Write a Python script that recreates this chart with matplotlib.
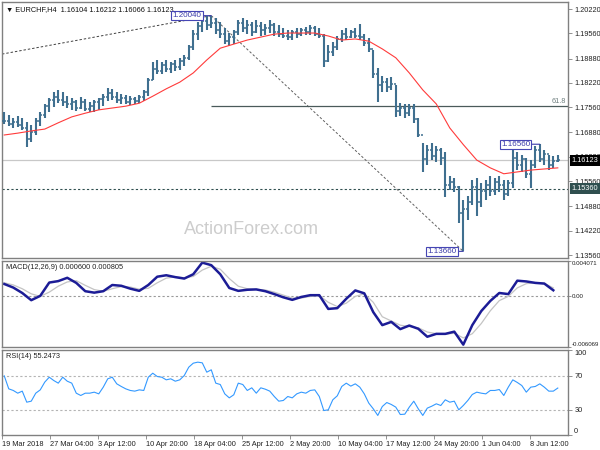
import numpy as np
import matplotlib
matplotlib.use('Agg')
import matplotlib.pyplot as plt
import matplotlib.transforms as mtransforms

plt.rcParams['font.family'] = ['Liberation Sans', 'DejaVu Sans']

# EURCHF H4 - every drawn bar covers 3 H4 bars
highs = [1.1743, 1.1735, 1.1727, 1.1732, 1.1727, 1.1716, 1.1708, 1.1727, 1.1743, 1.1765,
         1.1781, 1.1797, 1.1803, 1.1797, 1.1786, 1.1781, 1.1776, 1.1784, 1.1778, 1.1770,
         1.1776, 1.1781, 1.1792, 1.1808, 1.1806, 1.1797, 1.1792, 1.1789, 1.1786, 1.1784,
         1.1789, 1.1803, 1.1835, 1.1879, 1.1884, 1.1879, 1.1884, 1.1879, 1.1884, 1.1890,
         1.1898, 1.1925, 1.1965, 1.1987, 1.1998, 1.2003, 1.2004, 1.1998, 1.1987, 1.1971,
         1.1957, 1.1965, 1.1992, 1.1998, 1.1992, 1.1987, 1.1992, 1.1987, 1.1981, 1.1992,
         1.1984, 1.1979, 1.1971, 1.1965, 1.1965, 1.1971, 1.1971, 1.1973, 1.1979, 1.1976,
         1.1971, 1.1954, 1.1925, 1.1933, 1.1949, 1.1965, 1.1971, 1.1965, 1.1971, 1.1981,
         1.1954, 1.1944, 1.1911, 1.1862, 1.1841, 1.1835, 1.1838, 1.1816, 1.1767, 1.1765,
         1.1765, 1.1765, 1.1727, 1.1660, 1.1655, 1.1660, 1.1652, 1.1646, 1.1635, 1.1570,
         1.1565, 1.1543, 1.1505, 1.1516, 1.1559, 1.1565, 1.1551, 1.1559, 1.1570, 1.1565,
         1.1570, 1.1559, 1.1559, 1.1641, 1.1635, 1.1627, 1.1619, 1.1613, 1.1652, 1.1656,
         1.1641, 1.1627, 1.1624, 1.1627]
lows = [1.1711, 1.1706, 1.1700, 1.1703, 1.1695, 1.1649, 1.1662, 1.1681, 1.1706, 1.1727,
        1.1743, 1.1757, 1.1767, 1.1759, 1.1754, 1.1749, 1.1746, 1.1751, 1.1746, 1.1743,
        1.1743, 1.1749, 1.1759, 1.1773, 1.1776, 1.1767, 1.1765, 1.1765, 1.1762, 1.1765,
        1.1767, 1.1773, 1.1786, 1.1830, 1.1846, 1.1846, 1.1851, 1.1849, 1.1854, 1.1857,
        1.1868, 1.1884, 1.1911, 1.1938, 1.1960, 1.1965, 1.1971, 1.1954, 1.1944, 1.1927,
        1.1922, 1.1927, 1.1952, 1.1960, 1.1954, 1.1949, 1.1957, 1.1949, 1.1952, 1.1957,
        1.1949, 1.1946, 1.1944, 1.1938, 1.1938, 1.1944, 1.1949, 1.1952, 1.1952, 1.1949,
        1.1944, 1.1865, 1.1879, 1.1895, 1.1911, 1.1933, 1.1938, 1.1944, 1.1944, 1.1938,
        1.1922, 1.1906, 1.1835, 1.1770, 1.1797, 1.1797, 1.1803, 1.1730, 1.1732, 1.1727,
        1.1732, 1.1714, 1.1676, 1.1581, 1.1600, 1.1613, 1.1608, 1.1600, 1.1513, 1.1532,
        1.1527, 1.1443, 1.1366, 1.1451, 1.1492, 1.1462, 1.1486, 1.1505, 1.1516, 1.1519,
        1.1527, 1.1505, 1.1516, 1.1538, 1.1586, 1.1581, 1.1565, 1.1538, 1.1592, 1.1608,
        1.1600, 1.1586, 1.1592, 1.1608]
closes = [1.1720, 1.1712, 1.1715, 1.1708, 1.1700, 1.1670, 1.1690, 1.1720, 1.1735, 1.1760,
          1.1775, 1.1785, 1.1775, 1.1770, 1.1765, 1.1770, 1.1755, 1.1770, 1.1752, 1.1760,
          1.1770, 1.1778, 1.1785, 1.1795, 1.1785, 1.1775, 1.1780, 1.1770, 1.1778, 1.1772,
          1.1785, 1.1798, 1.1830, 1.1860, 1.1855, 1.1870, 1.1860, 1.1872, 1.1865, 1.1880,
          1.1890, 1.1920, 1.1955, 1.1975, 1.1990, 1.1980, 1.1985, 1.1965, 1.1955, 1.1935,
          1.1945, 1.1960, 1.1985, 1.1970, 1.1980, 1.1960, 1.1975, 1.1965, 1.1970, 1.1980,
          1.1960, 1.1955, 1.1950, 1.1945, 1.1960, 1.1955, 1.1965, 1.1960, 1.1970, 1.1955,
          1.1950, 1.1880, 1.1905, 1.1920, 1.1940, 1.1955, 1.1945, 1.1960, 1.1950, 1.1945,
          1.1930, 1.1915, 1.1845, 1.1815, 1.1825, 1.1810, 1.1820, 1.1745, 1.1755, 1.1740,
          1.1755, 1.1725, 1.1680, 1.1615, 1.1640, 1.1625, 1.1640, 1.1620, 1.1545, 1.1555,
          1.1540, 1.1470, 1.1480, 1.1500, 1.1540, 1.1500, 1.1530, 1.1545, 1.1530, 1.1555,
          1.1545, 1.1520, 1.1550, 1.1620, 1.1600, 1.1615, 1.1575, 1.1600, 1.1640, 1.1615,
          1.1630, 1.1600, 1.1610, 1.16123]

# moving average, read at every 3rd drawn bar
ma_line = [1.1681, 1.1686, 1.1692, 1.1697, 1.1714, 1.1730, 1.1740, 1.1749, 1.1754, 1.1759,
           1.1767, 1.1786, 1.1806, 1.1824, 1.1849, 1.1884, 1.1916, 1.1927, 1.1938, 1.1946,
           1.1954, 1.1957, 1.1957, 1.1957, 1.1949, 1.1938, 1.1941, 1.1935, 1.1914, 1.1890,
           1.1849, 1.1803, 1.1765, 1.1700, 1.1655, 1.1613, 1.1592, 1.1576, 1.1581, 1.1586,
           1.1589, 1.1592]

# MACD(12,26,9), read at every 2nd drawn bar
macd_main = [0.00136, 0.00094, 0.00030, -0.00055, -0.00004, 0.00153, 0.00170, 0.00209, 0.00149, 0.00051,
             0.00034, 0.00051, 0.00124, 0.00115, 0.00081, 0.00055, 0.00124, 0.00222, 0.00239, 0.00217,
             0.00200, 0.00251, 0.00388, 0.00358, 0.00251, 0.00089, 0.00055, 0.00068, 0.00072, 0.00051,
             0.00017, -0.00021, -0.00051, -0.00017, 0.00004, 0.00004, -0.00158, -0.00149, -0.00038, 0.00060,
             0.00026, -0.00196, -0.00349, -0.00311, -0.00396, -0.00354, -0.00392, -0.00486, -0.00452, -0.00452,
             -0.00426, -0.00579, -0.00349, -0.00183, -0.00064, 0.00030, 0.00017, 0.00175, 0.00166, 0.00149,
             0.00141, 0.00062]
macd_signal = [0.00150, 0.00125, 0.00080, 0.00020, -0.00010, 0.00040, 0.00110, 0.00160, 0.00175, 0.00120,
               0.00070, 0.00050, 0.00080, 0.00105, 0.00100, 0.00075, 0.00085, 0.00150, 0.00205, 0.00220,
               0.00210, 0.00225, 0.00300, 0.00345, 0.00310, 0.00200, 0.00110, 0.00080, 0.00072, 0.00065,
               0.00040, 0.00005, -0.00030, -0.00030, -0.00010, 0.00000, -0.00080, -0.00130, -0.00090, -0.00010,
               0.00020, -0.00080, -0.00250, -0.00300, -0.00350, -0.00365, -0.00380, -0.00430, -0.00450, -0.00455,
               -0.00445, -0.00500, -0.00450, -0.00330, -0.00180, -0.00060, -0.00010, 0.00090, 0.00140, 0.00150,
               0.00145, 0.00090]

# RSI(14), one value per drawn bar
rsi14 = [69.6, 54.3, 52.4, 49.2, 51.6, 38.6, 39.8, 49.2, 53.1, 62.2,
         68.0, 64.1, 61.0, 68.0, 63.3, 61.0, 49.2, 46.5, 49.2, 49.2,
         50.4, 48.4, 56.3, 66.1, 68.0, 60.2, 57.1, 54.3, 52.4, 51.6,
         53.1, 52.4, 68.0, 72.7, 68.8, 68.0, 64.9, 66.1, 63.3, 64.9,
         70.0, 79.8, 84.5, 85.7, 84.9, 73.9, 76.7, 61.0, 59.4, 48.4,
         43.7, 47.3, 61.0, 59.4, 52.4, 55.5, 49.2, 55.5, 53.9, 51.6,
         45.3, 39.8, 40.6, 45.3, 43.7, 48.4, 50.4, 49.2, 52.4, 53.1,
         45.3, 28.8, 29.6, 41.4, 46.1, 57.1, 61.0, 57.5, 60.2, 56.3,
         48.4, 37.5, 30.8, 23.0, 33.5, 38.2, 35.9, 32.8, 24.1, 24.5,
         32.8, 39.8, 30.8, 23.0, 31.6, 33.9, 36.7, 34.7, 41.4, 38.6,
         39.8, 29.6, 34.7, 40.6, 47.7, 50.4, 49.2, 48.4, 52.4, 52.4,
         53.5, 46.5, 56.3, 64.9, 61.8, 58.2, 50.4, 56.3, 57.1, 60.2,
         56.3, 51.6, 51.6, 55.25]

date_labels = ['19 Mar 2018', '27 Mar 04:00', '3 Apr 12:00', '10 Apr 20:00', '18 Apr 04:00',
               '25 Apr 12:00', '2 May 20:00', '10 May 04:00', '17 May 12:00', '24 May 20:00',
               '1 Jun 04:00', '8 Jun 12:00']
price_ticks = [1.2022, 1.1956, 1.1888, 1.1822, 1.1756, 1.1688, 1.1622, 1.1556, 1.1488, 1.1422, 1.1356]
last_price = 1.16123
support = 1.1536
trend_start = 1.1900
title = '\u25bc EURCHF,H4  1.16104 1.16212 1.16066 1.16123'

bar_color = '#3f6f8f'
frame = '#808080'
fs = 5.3

# x in H4 bars
n = len(highs)
bar_x = np.arange(n) * 3 + 1.5
opens = [closes[0]] + closes[:-1]
xmax = 377.3

fig = plt.figure(figsize=(6, 4.5), dpi=100)
ax1 = fig.add_axes([2/600, 1-258/450, 566/600, 256/450])
ax2 = fig.add_axes([2/600, 1-347/450, 566/600, 86/450])
ax3 = fig.add_axes([2/600, 1-435/450, 566/600, 85/450])

for ax in (ax1, ax2, ax3):
    ax.set_xlim(0, xmax)
    for s in ax.spines.values():
        s.set_color(frame)
        s.set_linewidth(1.0)
    ax.yaxis.tick_right()
    ax.tick_params(axis='y', direction='out', length=3, width=0.6, color=frame,
                   labelsize=fs, pad=1.5, labelcolor='#222222')
    ax.tick_params(axis='x', bottom=False, labelbottom=False)

# ---- price panel
ax1.set_ylim(1.1348, 1.2041)
ax1.set_yticks(price_ticks)
ax1.set_yticklabels(['%.5f' % p for p in price_ticks])

ax1.axhline(last_price, color='#c8c8c8', lw=0.9, zorder=1)
ax1.axhline(support, color='#2f4f4f', lw=0.8, ls=(0, (2, 2)), zorder=1)

ax1.vlines(bar_x, lows, highs, color=bar_color, lw=1.5, zorder=3)
ax1.hlines(opens, bar_x - 1.4, bar_x, color=bar_color, lw=1.1, zorder=3)
ax1.hlines(closes, bar_x, bar_x + 1.4, color=bar_color, lw=1.1, zorder=3)

ax1.plot(bar_x[::3], ma_line, color='#ff3b3b', lw=0.8, zorder=4)

i_hi = int(np.argmax(highs))
i_lo = int(np.argmin(lows))
hi, lo = highs[i_hi], lows[i_lo]
fib618 = lo + 0.618 * (hi - lo)

ax1.plot([0, bar_x[i_hi]], [trend_start, hi], color='#404040', lw=0.7, ls=(0, (2.5, 2)), zorder=2)
ax1.plot([bar_x[i_hi], bar_x[i_lo]], [hi, lo], color='#606060', lw=0.7, ls=(0, (2.5, 2)), zorder=2)
ax1.hlines(fib618, bar_x[i_hi], xmax, color='#4a5a5a', lw=0.9, zorder=2)
ax1.text(xmax - 1.5, fib618 + 0.0003, '61.8', fontsize=fs, color='#708080', ha='right', va='bottom')

box = dict(boxstyle='square,pad=0.15', facecolor='white', edgecolor='#4646b4', lw=0.8)
i_swing = 119
for idx, val, off in [(i_hi, hi, -7), (i_lo, lo, -5), (i_swing, highs[i_swing], -7)]:
    ax1.annotate('%.5f' % val, xy=(bar_x[idx], val), xytext=(off, 0), textcoords='offset points',
                 ha='right', va='center', fontsize=5.8, color='#3a3aa8', bbox=box, zorder=6,
                 arrowprops=dict(arrowstyle='-', color='#3a3aa8', lw=0.8, shrinkA=0, shrinkB=0))

tr = mtransforms.blended_transform_factory(ax1.transAxes, ax1.transData)
ax1.text(1.006, last_price, '%.5f' % last_price, transform=tr, fontsize=fs, color='white',
         ha='left', va='center', zorder=10, clip_on=False,
         bbox=dict(boxstyle='square,pad=0.25', facecolor='black', edgecolor='none'))
ax1.text(1.006, support, '%.5f' % support, transform=tr, fontsize=fs, color='white',
         ha='left', va='center', zorder=10, clip_on=False,
         bbox=dict(boxstyle='square,pad=0.25', facecolor='#2f4f4f', edgecolor='none'))

ax1.text(0.007, 0.985, title, transform=ax1.transAxes, fontsize=fs, color='#111111',
         ha='left', va='top')
ax1.text(0.44, 0.11, 'ActionForex.com', transform=ax1.transAxes, fontsize=13,
         color='#cdcdcd', ha='center', va='center', zorder=0)

# ---- MACD panel
macd_x = bar_x[::2]
ax2.set_ylim(-0.006069, 0.004071)
ax2.set_yticks([-0.006069, 0.0, 0.004071])
ax2.set_yticklabels(['-0.006069', '0.00', '0.004071'])
ax2.tick_params(axis='y', labelsize=4.4, pad=0.6, length=2)
lab = ax2.get_yticklabels()
lab[0].set_va('bottom')
lab[-1].set_va('top')
ax2.axhline(0, color='#9a9a9a', lw=0.8, ls=(0, (2, 2)))
ax2.plot(macd_x, macd_signal, color='#c4c4c4', lw=0.9)
ax2.plot(macd_x, macd_main, color='#1c1c96', lw=1.8)
ax2.text(0.007, 0.96, 'MACD(12,26,9) 0.000600 0.000805', transform=ax2.transAxes,
         fontsize=fs, color='#222222', ha='left', va='top')

# ---- RSI panel
ax3.set_ylim(0, 100)
ax3.set_yticks([0, 30, 70, 100])
ax3.set_yticklabels(['0', '30', '70', '100'])
lab = ax3.get_yticklabels()
lab[0].set_va('bottom')
lab[-1].set_va('top')
for lvl in (30, 70):
    ax3.axhline(lvl, color='#b4b4b4', lw=0.8, ls=(0, (2, 2)))
ax3.plot(bar_x, rsi14, color='#3399ff', lw=0.8)
ax3.text(0.007, 0.96, 'RSI(14) 55.2473', transform=ax3.transAxes,
         fontsize=fs, color='#222222', ha='left', va='top')

ax3.set_xticks(np.arange(len(date_labels)) * 32)
ax3.set_xticklabels(date_labels, ha='left')
ax3.tick_params(axis='x', bottom=True, labelbottom=True, direction='out', length=3,
                width=0.6, color=frame, labelsize=fs, pad=1.5, labelcolor='#222222')

fig.savefig('out.png', dpi=100, facecolor='white')
